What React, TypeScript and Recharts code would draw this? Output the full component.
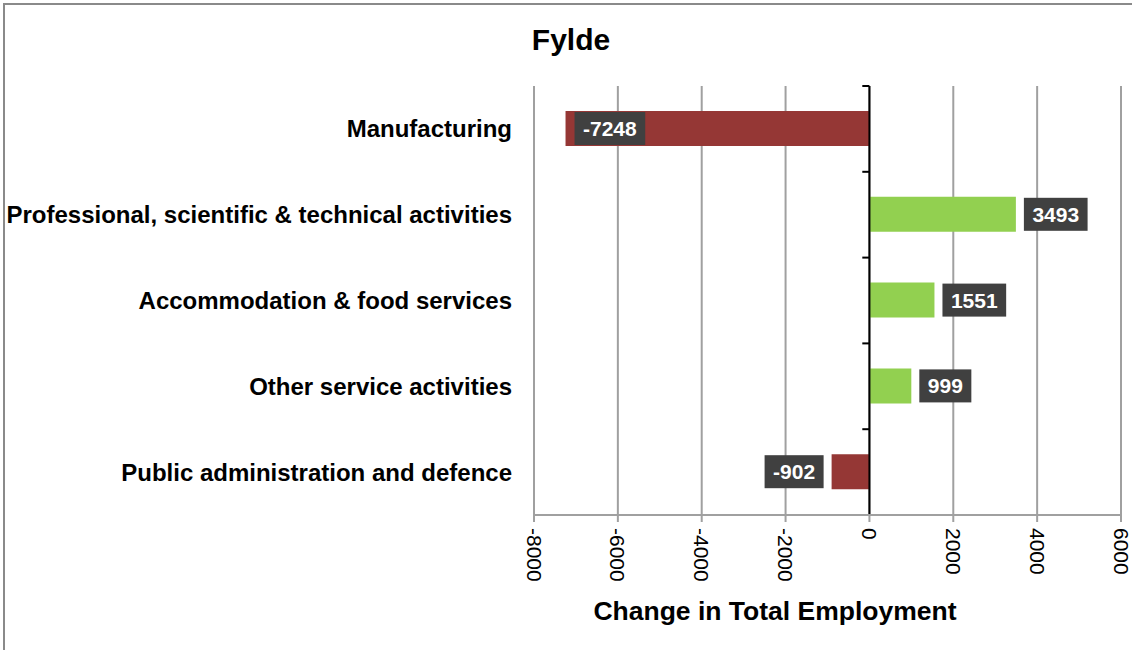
import React from 'react';
import { BarChart, Bar, XAxis, YAxis, CartesianGrid, ReferenceLine, LabelList, Cell } from 'recharts';

const categories = [
  'Manufacturing',
  'Professional, scientific & technical activities',
  'Accommodation & food services',
  'Other service activities',
  'Public administration and defence',
];
const changeValues = [-7248, 3493, 1551, 999, -902];
const xTicks = [-8000, -6000, -4000, -2000, 0, 2000, 4000, 6000];
const chartTitle = 'Fylde';
const xAxisTitle = 'Change in Total Employment';

const W = 1132;
const H = 650;
const FONT = "Arial, 'Liberation Sans', Helvetica, sans-serif";
const Y_WIDTH = 534;
const MARGIN = { top: 86, right: 11, bottom: 45, left: 0 };
const X_HEIGHT = 90;
const PLOT_LEFT = MARGIN.left + Y_WIDTH;
const NEG = '#953735';
const POS = '#92D050';
const GRID = '#A0A0A0';
const LABEL_FS = 21;

const data = categories.map((name, i) => ({ name, value: changeValues[i] }));

// rough bold Arial widths for the value boxes
function textWidth(s: string, fs: number) {
  let w = 0;
  for (const ch of s) w += ch === '-' ? 0.333 : 0.556;
  return w * fs;
}

const renderValueLabel = (props: any) => {
  const vb = props.viewBox || props;
  const x = Number(vb.x);
  const y = Number(vb.y);
  const width = Number(vb.width);
  const height = Number(vb.height);
  const v = Number(props.value);
  const left = Math.min(x, x + width);
  const right = Math.max(x, x + width);
  const top = Math.min(y, y + height);
  const cy = top + Math.abs(height) / 2;
  const text = String(v);
  const bw = textWidth(text, LABEL_FS) + 17;
  let bx: number;
  if (v >= 0) {
    bx = right + 8;
  } else {
    bx = left - 8 - bw;
    if (bx < PLOT_LEFT) bx = left + 9; // no room outside, put it inside the bar
  }
  return (
    <g>
      <rect x={bx} y={cy - 16.5} width={bw} height={33} fill="#404040" />
      <text
        x={bx + bw / 2}
        y={cy}
        textAnchor="middle"
        dominantBaseline="central"
        fill="#fff"
        fontWeight="bold"
        fontSize={LABEL_FS}
        fontFamily={FONT}
      >
        {text}
      </text>
    </g>
  );
};

const RotatedTick = (props: any) => {
  const { x, y, payload } = props;
  return (
    <text
      x={x}
      y={y}
      transform={`rotate(90, ${x}, ${y})`}
      textAnchor="start"
      dominantBaseline="central"
      fontSize={21}
      fontFamily={FONT}
      fill="#000"
    >
      {payload.value}
    </text>
  );
};

export default function App() {
  const last = categories[categories.length - 1];
  return (
    <div
      style={{
        position: 'fixed',
        left: 0,
        top: 0,
        width: W,
        height: H,
        overflow: 'hidden',
        background: '#fff',
        fontFamily: FONT,
      }}
    >
      <div
        style={{
          position: 'absolute',
          left: 3,
          top: 3,
          width: W + 20,
          height: H + 20,
          borderLeft: '2px solid #8a8a8a',
          borderTop: '2px solid #8a8a8a',
        }}
      />
      <div style={{ position: 'absolute', left: 0, top: 0 }}>
        <BarChart width={W} height={H} data={data} layout="vertical" margin={MARGIN} barSize={35}>
          <CartesianGrid horizontal={false} stroke={GRID} strokeWidth={2} />
          <XAxis
            type="number"
            domain={[-8000, 6000]}
            ticks={xTicks}
            interval={0}
            height={X_HEIGHT}
            axisLine={{ stroke: GRID, strokeWidth: 2 }}
            tickLine={{ stroke: GRID, strokeWidth: 2 }}
            tickSize={7}
            tickMargin={6}
            tick={<RotatedTick />}
            allowDataOverflow
          />
          <YAxis
            type="category"
            dataKey="name"
            width={Y_WIDTH}
            axisLine={false}
            tickLine={false}
            tickSize={0}
            tickMargin={22}
            tick={{ fontSize: 24, fontWeight: 'bold', fill: '#000', fontFamily: FONT }}
          />
          <Bar dataKey="value" isAnimationActive={false}>
            {data.map((d, i) => (
              <Cell key={i} fill={d.value < 0 ? NEG : POS} />
            ))}
            <LabelList dataKey="value" content={renderValueLabel} />
          </Bar>
          <ReferenceLine x={0} stroke="#000" strokeWidth={2} />
          {/* short tick marks on the zero axis at category boundaries */}
          {categories.map((c) => (
            <ReferenceLine
              key={c}
              position="start"
              segment={[
                { x: -170, y: c },
                { x: 0, y: c },
              ]}
              stroke="#000"
              strokeWidth={2}
            />
          ))}
          <ReferenceLine
            position="end"
            segment={[
              { x: -170, y: last },
              { x: 0, y: last },
            ]}
            stroke="#000"
            strokeWidth={2}
          />
        </BarChart>
      </div>
      <svg width={W} height={H} style={{ position: 'absolute', left: 0, top: 0, pointerEvents: 'none' }}>
        <text x={571} y={50} textAnchor="middle" fontSize={30} fontWeight="bold" fontFamily={FONT} fill="#000">
          {chartTitle}
        </text>
        <text x={775} y={620} textAnchor="middle" fontSize={26.5} fontWeight="bold" fontFamily={FONT} fill="#000">
          {xAxisTitle}
        </text>
      </svg>
    </div>
  );
}
